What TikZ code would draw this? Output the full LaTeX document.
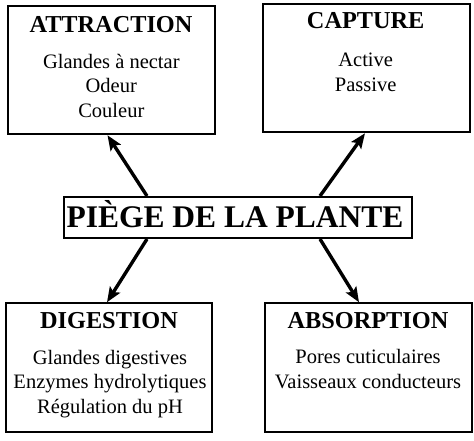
\documentclass[tikz,border=0pt]{standalone}
\usepackage{fontspec}
\setmainfont{Liberation Serif}
\usetikzlibrary{arrows.meta}

\begin{document}
\begin{tikzpicture}[x=1pt,y=-1pt,
    box/.style={draw,line width=2pt,minimum width=206.5pt,minimum height=128.5pt,inner sep=0pt},
    head/.style={anchor=base,inner sep=0pt,font=\bfseries\fontsize{24.3}{29}\selectfont},
    body/.style={anchor=base,inner sep=0pt,align=center,font=\fontsize{20.5}{24.3}\selectfont},
    arr/.style={line width=3.4pt,-{Stealth[length=15pt,width=12pt,inset=3pt]}}]
    \useasboundingbox (0,0) rectangle (474,440);

    % the four boxes
    \node[box] (attr) at (111.5,70) {};
    \node[box] (capt) at (366.5,68) {};
    \node[box] (dige) at (109,367.5) {};
    \node[box] (abso) at (368.5,367.5) {};

    % centre
    \node[draw,line width=2pt,minimum width=348pt,minimum height=41pt,inner sep=0pt] (piege) at (238,217.5) {};
    \node[anchor=base,inner sep=0pt,font=\bfseries\fontsize{31.5}{36}\selectfont] (piegetxt) at (235,227) {PIÈGE DE LA PLANTE};

    % texts (body nodes sit on their last line)
    \node[head] (attrhead) at (111,32) {ATTRACTION};
    \node[body] (attrbody) at (111.3,117) {Glandes à nectar\\Odeur\\Couleur};

    \node[head] (capthead) at (365.7,28) {CAPTURE};
    \node[body] (captbody) at (365.7,91) {Active\\Passive};

    \node[head] (digehead) at (109,328) {DIGESTION};
    \node[body] (digebody) at (110,413) {Glandes digestives\\Enzymes hydrolytiques\\Régulation du pH};

    \node[head] (absohead) at (368,328) {ABSORPTION};
    \node[body] (absobody) at (368,388) {Pores cuticulaires\\Vaisseaux conducteurs};

    \draw[arr] ([xshift=84pt]piege.north west) -- ([xshift=-4pt]attr.south);
    \draw[arr] ([xshift=-93pt]piege.north east) -- ([xshift=-1.5pt]capt.south);
    \draw[arr] ([xshift=84pt]piege.south west) -- ([xshift=-2pt]dige.north);
    \draw[arr] ([xshift=-93pt]piege.south east) -- ([xshift=-9.5pt]abso.north);
\end{tikzpicture}
\end{document}
